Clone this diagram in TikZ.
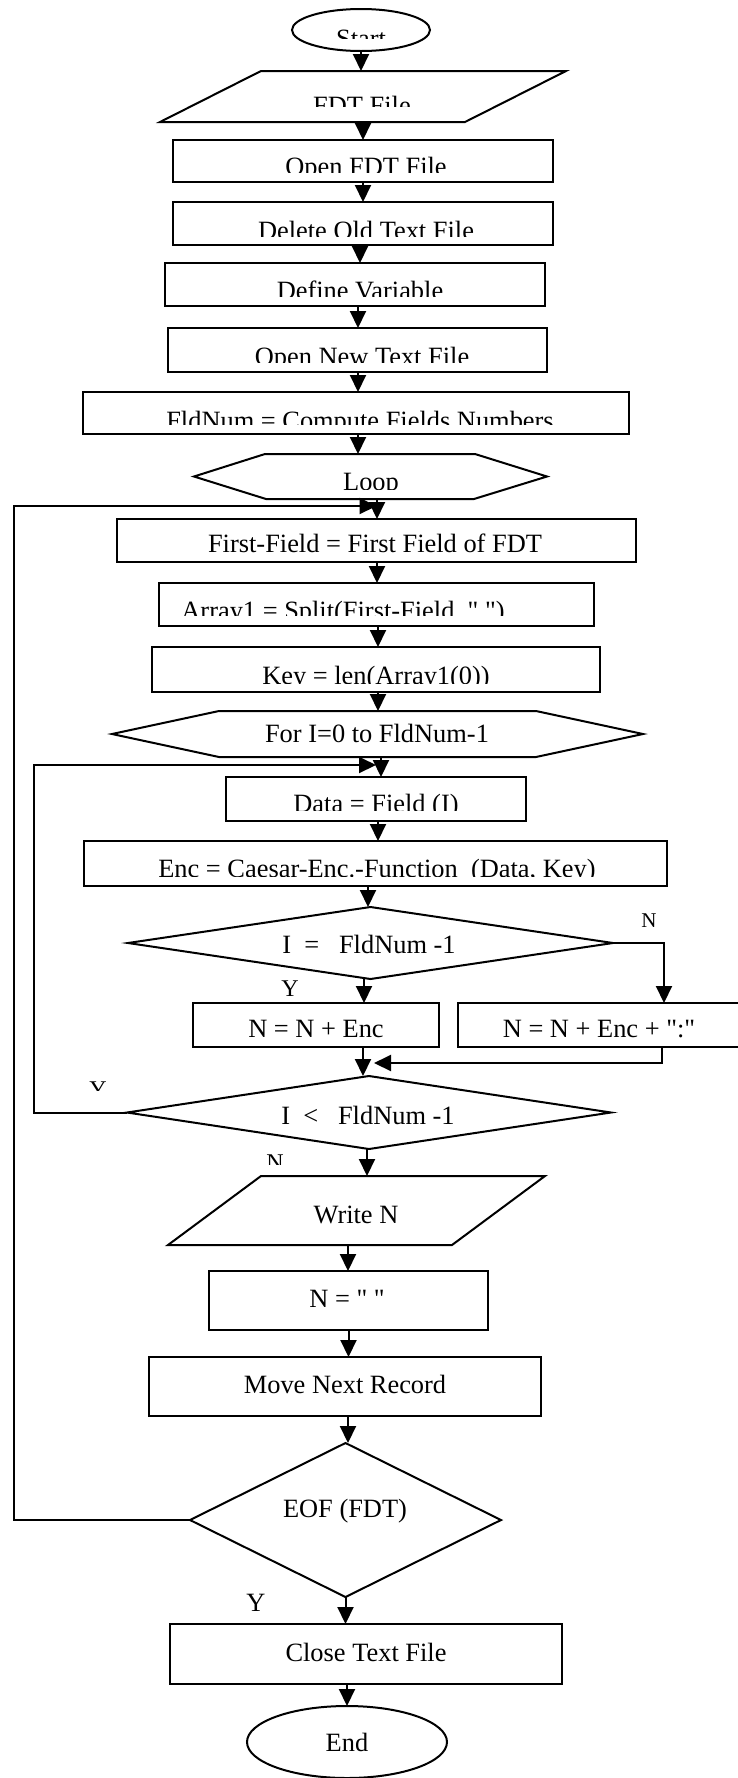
\documentclass[tikz,border=0pt]{standalone}
\usepackage{fontspec}
\setmainfont{Liberation Serif}[Ligatures=TeXOff]
\usetikzlibrary{arrows.meta,shapes.geometric,calc}
\newcommand\shapeat[6]{\node[#1, minimum width={#4-#3}, minimum height={#6-#5}] (#2) at ({(#3+#4)/2},{(#5+#6)/2}) {};}
\newcommand\vlink[3]{\draw[arr] ($(#1.south)+(#3,0)$) -- ($(#1.south |- #2.north)+(#3,0)$);}
\newcommand\cliptxt[6][txt]{\begin{scope}\clip (0,0) rectangle (738,#5);\node[#1] (#2) at (#3,#4) {#6};\end{scope}}
\begin{document}
\begin{tikzpicture}[x=1pt,y=-1pt,
  ln/.style={line width=2pt},
  box/.style={draw,line width=2pt,rectangle,inner sep=0pt,outer sep=0pt},
  ghost/.style={rectangle,inner sep=0pt,outer sep=0pt},
  dia/.style={draw,line width=2pt,diamond,inner sep=0pt,outer sep=0pt},
  oval/.style={draw,line width=2pt,ellipse,inner sep=0pt,outer sep=0pt},
  txt/.style={inner sep=0pt,outer sep=0pt,anchor=base,font=\fontsize{26.4}{30}\selectfont},
  lbl/.style={txt,font=\fontsize{24}{28}\selectfont},
  lbls/.style={txt,font=\fontsize{21}{24}\selectfont},
  arr/.style={line width=2pt,-{Triangle[width=16pt,length=17pt]}}]
\useasboundingbox[fill=white] (0,0) rectangle (738,1778);

% ---------- shapes ----------
\node[oval, minimum width=138, minimum height=42] (start) at (361,30) {};
\shapeat{ghost}{fdt}{160}{566}{71}{122}
\draw[ln] ([xshift=101]fdt.north west) -- (fdt.north east) -- ([xshift=-101]fdt.south east) -- (fdt.south west) -- cycle;
\shapeat{box}{open}{173}{553}{140}{182}
\shapeat{box}{delete}{173}{553}{202}{245}
\shapeat{box}{define}{165}{545}{263}{306}
\shapeat{box}{newfile}{168}{547}{328}{372}
\shapeat{box}{fldnum}{83}{629}{392}{434}
\shapeat{ghost}{loop}{194}{547}{454}{499}
\draw[ln] ([xshift=71]loop.north west) -- ([xshift=-72]loop.north east) -- (loop.east) -- ([xshift=-73]loop.south east) -- ([xshift=72]loop.south west) -- (loop.west) -- cycle;
\shapeat{box}{first}{117}{636}{519}{562}
\shapeat{box}{array}{159}{594}{583}{626}
\shapeat{box}{key}{152}{600}{647}{692}
\shapeat{ghost}{forh}{112}{643}{711}{757}
\draw[ln] ([xshift=107]forh.north west) -- ([xshift=-107]forh.north east) -- (forh.east) -- ([xshift=-107]forh.south east) -- ([xshift=107]forh.south west) -- (forh.west) -- cycle;
\shapeat{box}{data}{226}{526}{777}{821}
\shapeat{box}{enc}{84}{667}{841}{886}
\shapeat{dia}{d1}{128}{613}{907}{979}
\shapeat{box}{nenc}{193}{439}{1003}{1047}
\shapeat{box}{nenc2}{458}{740}{1003}{1047}
\shapeat{dia}{d2}{127}{611}{1076}{1149}
\shapeat{ghost}{write}{168}{545}{1176}{1245}
\draw[ln] ([xshift=93]write.north west) -- (write.north east) -- ([xshift=-93]write.south east) -- (write.south west) -- cycle;
\shapeat{box}{nblank}{209}{488}{1271}{1330}
\shapeat{box}{move}{149}{541}{1357}{1416}
\shapeat{dia}{eof}{190}{501}{1443}{1597}
\shapeat{box}{close}{170}{562}{1624}{1684}
\node[oval, minimum width=200, minimum height=72] (stop) at (347,1742) {};

% ---------- texts (clipped as printed) ----------
\cliptxt{tstart}{361}{47}{38}{Start}
\cliptxt{tfdt}{362}{114.5}{106}{FDT File}
\cliptxt{topen}{366}{175.5}{172}{Open FDT File}
\cliptxt{tdel}{366}{239.5}{236}{Delete Old Text File}
\cliptxt{tdef}{360}{299.5}{296}{Define Variable}
\cliptxt{tnew}{362}{365.5}{362}{Open New Text File}
\cliptxt{tfld}{360}{429.5}{424}{FldNum = Compute Fields Numbers}
\cliptxt{tloop}{371}{490.5}{489}{Loop}
\node[txt] (tfirst) at (375,552) {First-Field = First Field of FDT};
\cliptxt{tarr}{343}{619.5}{615}{Array1 = Split(First-Field, ",")}
\cliptxt{tkey}{376}{684.5}{683}{Key = len(Array1(0))}
\node[txt] (tfor) at (377,742) {For I=0 to FldNum-1};
\cliptxt{tdata}{376}{812.5}{810}{Data = Field (I)}
\cliptxt{tenc}{377}{877.5}{876}{Enc = Caesar-Enc.-Function\ \ (Data, Key)}
\node[txt] (td1) at (369,953) {I\ \ =\ \ \ FldNum -1};
\node[lbls] (ln1) at (649,927) {N};
\node[lbl] (ly1) at (290,996) {Y};
\node[txt] (tnenc) at (316,1037) {N = N + Enc};
\node[txt] (tnenc2) at (599,1037) {N = N + Enc + ":"};
\node[txt] (td2) at (368,1124) {I\ \ <\ \ \ FldNum -1};
\cliptxt[lbl]{ly2}{98}{1097}{1090}{Y}
\cliptxt[lbl]{ln2}{275}{1170}{1164}{N}
\node[txt] (twrite) at (356,1223) {Write N};
\node[txt] (tblank) at (347,1307) {N = " "};
\node[txt] (tmove) at (345,1393) {Move Next Record};
\node[txt] (teof) at (345,1517) {EOF (FDT)};
\node[txt] (ly3) at (256,1611) {Y};
\node[txt] (tclose) at (366,1661) {Close Text File};
\node[txt] (tend) at (347,1751) {End};

% ---------- connectors ----------
\vlink{start}{fdt}{0}
\vlink{fdt}{open}{0}
\vlink{open}{delete}{0}
\vlink{delete}{define}{-3}
\vlink{define}{newfile}{3}
\vlink{newfile}{fldnum}{0.5}
\vlink{fldnum}{loop}{2}
\vlink{loop}{first}{6.5}
\vlink{first}{array}{0.5}
\vlink{array}{key}{1.5}
\vlink{key}{forh}{2}
\vlink{forh}{data}{3.5}
\vlink{data}{enc}{2}
\vlink{enc}{d1}{-7.5}
\vlink{d1}{nenc}{-6.5}
\draw[arr] (d1.east) -| ($(nenc2.north west)+(206,0)$);
\draw[arr] ($(nenc.south -| d2.north)+(-6,0)$) -- ($(d2.north)+(-6,0)$);
\draw[arr] ($(nenc2.south west)+(204,0)$) |- ($(d2.north)+(5,-13)$);
\draw[arr] (d2.west) -- ++(-93,0) |- ($(data.north)+(0,-12)$);
\vlink{d2}{write}{-2}
\vlink{write}{nblank}{-8.5}
\vlink{nblank}{move}{0}
\vlink{move}{eof}{3}
\vlink{eof}{close}{0}
\draw[arr] (close.south -| stop.north) -- (stop.north);
\draw[arr] (eof.west) -- ++(-176,0) |- ($(first.north)+(0,-13)$);
\end{tikzpicture}
\end{document}
